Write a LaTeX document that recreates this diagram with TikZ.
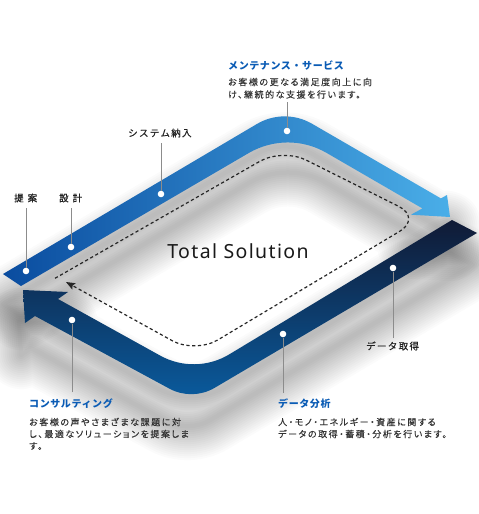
\documentclass[tikz,border=0pt]{standalone}
\usepackage{fontspec}
\usetikzlibrary{arrows.meta}
\setmainfont{Noto Sans}
\newfontfamily\totalfont{Noto Sans}[LetterSpace=7]
\newfontfamily\jpttl{Noto Sans CJK JP}[LetterSpace=6]
\newfontfamily\jplbl{Noto Sans CJK JP}[LetterSpace=14,FakeBold=0.4]
\newfontfamily\jpdsc{Noto Sans CJK JP}[RawFeature=+palt,LetterSpace=17,FakeBold=0.2]
\definecolor{ttlblue}{HTML}{0B5CB5}
\definecolor{dsccol}{HTML}{333333}
\definecolor{lblcol}{HTML}{222222}
\definecolor{leadcol}{HTML}{8C8C8C}
\definecolor{topL}{HTML}{0A4C9F}
\definecolor{topR}{HTML}{4AAEE8}
\definecolor{botT}{HTML}{101A35}
\definecolor{botM}{HTML}{0F2F5A}
\definecolor{botB}{HTML}{0A5A9C}
\def\toppath{(3,274) -- (256.9,124.0) .. controls (273.9,113.9) and (294.9,113.8) .. (312.1,123.8) -- (440.9,198.4) -- (447,195) -- (450,217) -- (411,214.7) -- (422.4,208.4) -- (326.6,152.9) .. controls (302.5,138.9) and (272.9,139.0) .. (248.8,153.0) -- (21,286) -- cycle}
\def\botpath{(452,220) -- (477,233) -- (214.7,387.8) .. controls (200.8,396.0) and (183.6,396.3) .. (169.4,388.65) -- (35,316) -- (25,323) -- (23,290) -- (68,292) -- (58,299) -- (160.2,355.6) .. controls (181.9,367.6) and (208.2,367.1) .. (229.4,354.3) -- cycle}
\tikzset{
  ttl/.style={anchor=west,inner sep=0pt,text=ttlblue,font=\jpttl\bfseries\fontsize{10}{12}\selectfont},
  dsc/.style={anchor=west,inner sep=0pt,text=dsccol,font=\jpdsc\fontsize{9}{11}\selectfont},
  lbl/.style={anchor=west,inner sep=0pt,text=lblcol,font=\jplbl\fontsize{9.5}{11}\selectfont},
  dotnode/.style={circle,fill=white,inner sep=0pt,minimum size=6.6pt},
  leader/.style={draw=leadcol,line width=1pt},
  dashline/.style={draw=black!85,line width=1.2pt,dash pattern=on 3.2pt off 2.6pt},
  shadowlayer/.style={draw=black,line join=round,opacity=0.015}
}
\begin{document}
\begin{tikzpicture}[x=1pt,y=-1pt]
\useasboundingbox (0,0) rectangle (479,514);
\fill[white] (0,0) rectangle (479,514);
% soft shadows
\foreach \w in {68,64,60,56,52,48,44,40,36,32,28,24,20,16,12,8,4} {
  \path[shadowlayer,line width=\w pt,shift={(0,30)}] \toppath;
  \path[shadowlayer,line width=\w pt,shift={(-4,32)}] \botpath;
}
% dashed loop
\draw[dashline,rounded corners=26pt,-{Stealth[length=9pt,width=7pt,inset=1.5pt]}]
  (55,278.3) -- (282.6,148.3) -- (422,218) -- (195.2,353.4) -- (66,282);
% bands
\shade[left color=topL,right color=topR] \toppath;
\shade[top color=botT,middle color=botM,bottom color=botB] \botpath;
% Total Solution
\node[inner sep=0pt,text=black!90,font=\totalfont\fontsize{19.5}{22}\selectfont] (total) at (238,251.5) {Total Solution};
% labels
\node[ttl] (tMaint) at (228,66) {メンテナンス・サービス};
\node[dsc] (dMaint1) at (228,82) {お客様の更なる満足度向上に向};
\node[dsc] (dMaint2) at (228,94.5) {け、継続的な支援を行います。};
\node[lbl] (lSys) at (128,133) {システム納入};
\node[lbl] (lTei) at (14,198) {提\hspace{4pt}案};
\node[lbl] (lSek) at (59,198) {設\hspace{4pt}計};
\node[ttl] (tCons) at (29,404) {コンサルティング};
\node[dsc] (dCons1) at (29,422) {お客様の声やさまざまな課題に対};
\node[dsc] (dCons2) at (29,434) {し、最適なソリューションを提案しま};
\node[dsc] (dCons3) at (29,446) {す。};
\node[lbl] (lAcq) at (366,346) {データ取得};
\node[ttl] (tAna) at (278,404) {データ分析};
\node[dsc] (dAna1) at (278,422) {人・モノ・エネルギー・資産に関する};
\node[dsc] (dAna2) at (278,434) {データの取得・蓄積・分析を行います。};
% leader coordinates
\coordinate (cMaint) at (287,102);
\coordinate (cSys) at (161,143);
\coordinate (cTei) at (26,208);
\coordinate (cSek) at (71,208);
\coordinate (cCons) at (72,392);
\coordinate (cAcq) at (393,338);
\coordinate (cAna) at (283,393);
% dots
\node[dotnode] (pMaint) at (287,131) {};
\node[dotnode] (pSys) at (161,194) {};
\node[dotnode] (pTei) at (26,271) {};
\node[dotnode] (pSek) at (71,247) {};
\node[dotnode] (pCons) at (72,320) {};
\node[dotnode] (pAcq) at (393,268) {};
\node[dotnode] (pAna) at (283,334) {};
\draw[leader] (cMaint) -- (pMaint.north);
\draw[leader] (cSys) -- (pSys.north);
\draw[leader] (cTei) -- (pTei.north);
\draw[leader] (cSek) -- (pSek.north);
\draw[leader] (cCons) -- (pCons.south);
\draw[leader] (cAcq) -- (pAcq.south);
\draw[leader] (cAna) -- (pAna.south);
\end{tikzpicture}
\end{document}
